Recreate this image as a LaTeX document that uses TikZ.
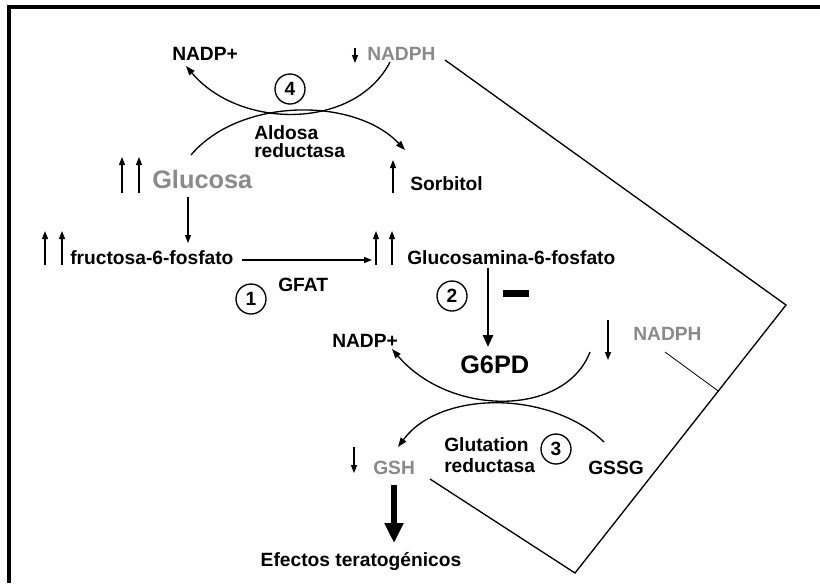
\documentclass[tikz,border=0pt]{standalone}
\usepackage{fontspec}
\setmainfont{Liberation Sans}
\usetikzlibrary{arrows.meta}
\definecolor{softgrey}{RGB}{138,138,138}
\begin{document}
\begin{tikzpicture}[x=0.75pt,y=-0.75pt,
    lbl/.style={inner sep=0pt,anchor=base west,font=\fontsize{14.4}{16}\selectfont\bfseries},
    big/.style={lbl,font=\fontsize{19}{22}\selectfont\bfseries},
    faded/.style={text=softgrey},
    num/.style={draw,circle,line width=1pt,minimum size=22.5pt,inner sep=0pt,font=\fontsize{14.4}{16}\selectfont\bfseries},
    arr/.style={line width=1pt,-{Triangle[length=6pt,width=4.5pt]}},
    curvearr/.style={line width=1pt,-{Triangle[length=7pt,width=5pt]}},
    heavy/.style={line width=2pt,-{Triangle[length=9pt,width=7.5pt]}},
    huge/.style={line width=5pt,-{Triangle[length=15pt,width=13.5pt]}}]
  \useasboundingbox (0,0) rectangle (820,583);
  \draw[line width=2.3pt] (9,583) -- (9,7) -- (820,7);

  % aldosa reductasa
  \node[lbl] (nadpA) at (172,60) {NADP+};
  \node[lbl,faded] (nadphA) at (367,60) {NADPH};
  \node[num] (c4) at (290,89) {4};
  \node[lbl,anchor=west,align=left] (ar) at (254,142) {Aldosa\\[-2.5pt]reductasa};
  \node[big,faded] (glu) at (152,188) {Glucosa};
  \node[lbl] (sor) at (410,190) {Sorbitol};

  % hexosaminas
  \node[lbl] (fru) at (70,264) {fructosa-6-fosfato};
  \node[lbl] (glcn) at (407,264) {Glucosamina-6-fosfato};
  \node[num] (c1) at (251,299) {1};
  \node[lbl] (gfat) at (278,291) {GFAT};
  \node[num] (c2) at (452,296) {2};
  \fill (503,290) rectangle (529,297);

  % G6PD y glutation
  \node[big] (g6pd) at (460,373) {G6PD};
  \node[lbl] (nadpB) at (332,347) {NADP+};
  \node[lbl,faded] (nadphB) at (633,340) {NADPH};
  \node[lbl,anchor=west,align=left] (gr) at (444,455) {Glutation\\reductasa};
  \node[num] (c3) at (556,449) {3};
  \node[lbl] (gssg) at (588,474) {GSSG};
  \node[lbl,faded] (gsh) at (373,474) {GSH};
  \node[lbl,anchor=base] (efe) at (361,566) {Efectos teratogénicos};

  \draw[arr] ([shift={(-12,-12)}]nadphA.base west) -- ++(0,15);
  \draw[curvearr] ([shift={(23,2)}]nadphA.base west) .. controls (355,130) and (240,130) .. ([shift={(14,6)}]nadpA.base west);
  \draw[curvearr] ([shift={(39,-33)}]glu.base west) .. controls (240,97) and (355,97) .. ([shift={(-5,-40)}]sor.base west);
  \draw[arr] ([shift={(-30,5)}]glu.base west) -- ++(0,-36);
  \draw[arr] ([shift={(-13,5)}]glu.base west) -- ++(0,-36);
  \draw[arr] ([shift={(-17,3)}]sor.base west) -- ++(0,-33);
  \draw[arr] ([shift={(36,9)}]glu.base west) -- ([shift={(118,-21)}]fru.base west);

  \draw[arr] ([shift={(-25,1)}]fru.base west) -- ++(0,-34);
  \draw[arr] ([shift={(-8,1)}]fru.base west) -- ++(0,-34);
  \draw[arr] ([shift={(172,-4)}]fru.base west) -- ([shift={(-35,-4)}]glcn.base west);
  \draw[arr] ([shift={(-31,1)}]glcn.base west) -- ++(0,-34);
  \draw[arr] ([shift={(-15,1)}]glcn.base west) -- ++(0,-34);
  \draw[heavy] ([shift={(81,4)}]glcn.base west) -- ([shift={(28,-26)}]g6pd.base west);

  \draw[arr] ([shift={(-25,-20)}]nadphB.base west) -- ++(0,40);
  \draw[curvearr] ([shift={(-43,12)}]nadphB.base west) .. controls (565,417) and (450,417) .. ([shift={(60,2)}]nadpB.base west);
  \draw[curvearr] ([shift={(16,-32)}]gssg.base west) .. controls (550,390) and (440,390) .. ([shift={(25,-27)}]gsh.base west);
  \draw[arr] ([shift={(-19,-27)}]gsh.base west) -- ++(0,26);
  \draw[huge] ([shift={(21,11)}]gsh.base west) -- ([shift={(33,-23)}]efe.base);

  \draw[line width=1pt] ([shift={(78,0)}]nadphA.base west) -- (786,305) -- coordinate[pos=0.321] (hit) (575,573) -- ([shift={(57,5)}]gsh.base west);
  \draw[line width=0.6pt] ([shift={(32,12)}]nadphB.base west) -- (hit);
\end{tikzpicture}
\end{document}
